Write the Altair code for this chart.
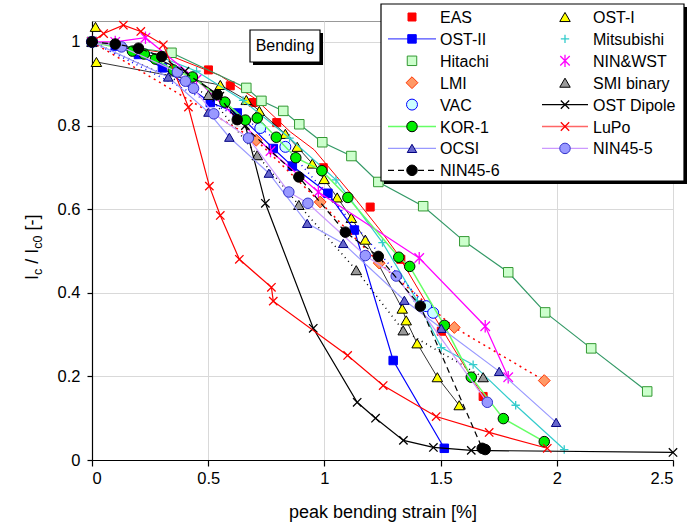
import altair as alt
import pandas as pd

FONT = "Liberation Sans"

# ---------------- data ----------------
names = ["EAS", "OST-I", "OST-II", "Mitsubishi", "Hitachi", "NIN&WST", "LMI",
         "SMI binary", "VAC", "OST Dipole", "KOR-1", "LuPo", "OCSI", "NIN45-5", "NIN45-6"]

eas_x = [0, 0.501, 0.595, 0.694, 0.795, 0.995, 1.197, 1.329, 1.503, 1.683]
eas_y = [1.0, 0.933, 0.895, 0.855, 0.807, 0.699, 0.605, 0.480, 0.308, 0.152]
eas_curve_x = [0, 0.3, 0.55, 0.7, 0.853, 0.956, 1.14, 1.24, 1.312, 1.5, 1.683]
eas_curve_y = [1.0, 0.975, 0.92, 0.865, 0.785, 0.742, 0.62, 0.55, 0.495, 0.318, 0.152]

ost1_x = [0.015, 0.019, 0.552, 0.664, 0.720, 0.832, 0.883, 0.948, 0.999, 1.055, 1.116,
          1.176, 1.335, 1.352, 1.399, 1.486, 1.580]
ost1_y = [1.036, 0.952, 0.897, 0.861, 0.835, 0.780, 0.749, 0.709, 0.672, 0.628, 0.579,
          0.527, 0.362, 0.334, 0.279, 0.198, 0.131]

ost2_x = [0, 0.1, 0.2, 0.303, 0.509, 0.625, 0.780, 0.862, 1.015, 1.129, 1.296, 1.516]
ost2_y = [1.0, 0.99, 0.97, 0.938, 0.855, 0.830, 0.745, 0.703, 0.638, 0.550, 0.238, 0.028]

mits_x = [0, 0.2, 0.45, 0.65, 0.85, 1.05, 1.25, 1.4, 1.503, 1.640, 1.823, 2.032]
mits_y = [1.0, 0.985, 0.93, 0.86, 0.77, 0.67, 0.52, 0.38, 0.269, 0.228, 0.131, 0.025]

hit_x = [0, 0.342, 0.664, 0.729, 0.823, 0.892, 0.991, 1.116, 1.232, 1.425, 1.602,
         1.791, 1.950, 2.148, 2.389]
hit_y = [1.0, 0.974, 0.890, 0.859, 0.835, 0.803, 0.760, 0.727, 0.665, 0.607, 0.523,
         0.449, 0.353, 0.267, 0.164]

nw_x = [0, 0.1, 0.23, 0.45, 0.768, 0.974, 1.408, 1.692, 1.791]
nw_y = [1.0, 1.0, 1.01, 0.91, 0.739, 0.641, 0.483, 0.320, 0.198]

lmi_x = [0, 0.707, 0.982, 1.236, 1.559, 1.946]
lmi_y = [1.0, 0.765, 0.617, 0.471, 0.317, 0.190]

smi_x = [0, 0.501, 0.711, 0.890, 1.137, 1.339, 1.683]
smi_y = [1.0, 0.873, 0.729, 0.610, 0.454, 0.310, 0.198]

vac_x = [0, 0.724, 0.832, 1.438, 1.468]
vac_y = [1.0, 0.794, 0.749, 0.368, 0.352]

dip_x = [0, 0.2, 0.4, 0.55, 0.66, 0.746, 0.952, 1.141, 1.22, 1.34, 1.469, 1.632, 2.5]
dip_y = [1.0, 0.98, 0.93, 0.87, 0.80, 0.614, 0.315, 0.138, 0.10, 0.047, 0.030, 0.023, 0.018]

kor_x = [0, 0.174, 0.225, 0.273, 0.350, 0.432, 0.572, 0.660, 0.711, 0.793, 0.877, 0.989,
         1.101, 1.320, 1.367, 1.516, 1.632, 1.770, 1.946]
kor_y = [1.0, 0.978, 0.971, 0.959, 0.933, 0.916, 0.856, 0.813, 0.818, 0.772, 0.723, 0.692,
         0.628, 0.485, 0.463, 0.322, 0.198, 0.099, 0.044]

lupo_x = [0, 0.05, 0.135, 0.21, 0.307, 0.415, 0.505, 0.552, 0.634, 0.772, 0.78, 1.1,
          1.253, 1.481, 1.709, 1.959]
lupo_y = [1.0, 1.02, 1.04, 1.025, 0.993, 0.844, 0.655, 0.585, 0.480, 0.413, 0.38, 0.25,
          0.178, 0.104, 0.066, 0.028]

ocsi_x = [0, 0.328, 0.501, 0.591, 0.761, 0.926, 1.081, 1.344, 1.503, 1.752, 1.997]
ocsi_y = [1.0, 0.916, 0.832, 0.772, 0.686, 0.566, 0.518, 0.382, 0.315, 0.212, 0.090]

n455_x = [0, 0.127, 0.367, 0.402, 0.437, 0.524, 0.673, 0.847, 0.929, 1.176, 1.309, 1.701]
n455_y = [1.0, 0.988, 0.928, 0.906, 0.889, 0.828, 0.770, 0.641, 0.614, 0.489, 0.440, 0.138]

n456_x = [0, 0.1, 0.2, 0.3, 0.539, 0.625, 0.890, 1.090, 1.232, 1.413, 1.679, 1.692]
n456_y = [1.0, 0.995, 0.985, 0.965, 0.874, 0.814, 0.677, 0.545, 0.487, 0.368, 0.028, 0.025]

x_ticks = [0, 0.5, 1, 1.5, 2, 2.5]
y_ticks = [0, 0.2, 0.4, 0.6, 0.8, 1.0]

series_xy = {
    "EAS": (eas_x, eas_y), "OST-I": (ost1_x, ost1_y), "OST-II": (ost2_x, ost2_y),
    "Mitsubishi": (mits_x, mits_y), "Hitachi": (hit_x, hit_y), "NIN&WST": (nw_x, nw_y),
    "LMI": (lmi_x, lmi_y), "SMI binary": (smi_x, smi_y), "VAC": (vac_x, vac_y),
    "OST Dipole": (dip_x, dip_y), "KOR-1": (kor_x, kor_y), "LuPo": (lupo_x, lupo_y),
    "OCSI": (ocsi_x, ocsi_y), "NIN45-5": (n455_x, n455_y), "NIN45-6": (n456_x, n456_y),
}

# ---------------- styles ----------------
PLUS = "M-1,0L1,0M0,-1L0,1"
XS = "M-1,-1L1,1M-1,1L1,-1"
STAR = "M-1,-1L1,1M-1,1L1,-1M0,-1.3L0,1.3"

styles = {
    "EAS": dict(shape="square", fill="#ff0000", stroke="#ff0000", size=64),
    "OST-I": dict(shape="triangle-up", fill="#ffff00", stroke="#000000", size=110,
                  line="#000000", lw=0.8, skip=1),
    "OST-II": dict(shape="square", fill="#0000ff", stroke="#0000ff", size=72,
                   line="#0000ff", lw=1.2, leg="#4d4dff"),
    "Mitsubishi": dict(shape=PLUS, stroke="#33cccc", size=70, line="#33cccc", lw=1.2),
    "Hitachi": dict(shape="square", fill="#ccffcc", stroke="#339933", size=90,
                    line="#339966", lw=1.2),
    "NIN&WST": dict(shape=STAR, stroke="#ff00ff", size=90, line="#ff00ff", lw=1.2),
    "LMI": dict(shape="diamond", fill="#ff9966", stroke="#ff3300", size=140,
                line="#ff0000", lw=1.5, dash=[2, 4]),
    "SMI binary": dict(shape="triangle-up", fill="#999999", stroke="#000000", size=110,
                       line="#000000", lw=1.5, dash=[1, 4]),
    "VAC": dict(shape="circle", fill="#ccffff", stroke="#0000ff", size=120,
                line="#0000ff", lw=1.5, dash=[1, 4]),
    "OST Dipole": dict(shape=XS, stroke="#000000", size=70, line="#000000", lw=1.2,
                       leg="#000000"),
    "KOR-1": dict(shape="circle", fill="#00ee00", stroke="#000000", size=110,
                  line="#66ff66", lw=1.5, leg="#66ff66"),
    "LuPo": dict(shape=XS, stroke="#ff0000", size=70, line="#ff0000", lw=1.2, leg="#ff6666"),
    "OCSI": dict(shape="triangle-up", fill="#6666cc", stroke="#000080", size=90,
                 line="#9999ff", lw=1.2, leg="#9999ff"),
    "NIN45-5": dict(shape="circle", fill="#9999ff", stroke="#3333cc", size=110,
                    line="#cc99ff", lw=1.2, leg="#cc99ff"),
    "NIN45-6": dict(shape="circle", fill="#000000", stroke="#000000", size=110,
                    line="#000000", lw=1.2, dash=[6, 4], leg="#000000"),
}

# ---------------- encodings ----------------
X = alt.X("x:Q", scale=alt.Scale(domain=[0, 2.5], nice=False, zero=False),
          axis=alt.Axis(values=x_ticks, format=".1~f", title="peak bending strain [%]",
                        tickSize=6, labelPadding=4, titlePadding=17))
Y = alt.Y("y:Q", scale=alt.Scale(domain=[0, 1.05], nice=False, zero=False),
          axis=alt.Axis(values=y_ticks, format=".1~f", title=None, tickSize=5,
                        labelPadding=7))

ONE = pd.DataFrame({"k": [0]})


def line_layer(xs, ys, color, lw, dash=None):
    df = pd.DataFrame({"x": xs, "y": ys, "i": list(range(len(xs)))})
    kw = dict(color=color, strokeWidth=lw, clip=True)
    if dash:
        kw["strokeDash"] = dash
    return alt.Chart(df).mark_line(**kw).encode(x=X, y=Y, order="i:Q")


def point_kw(st):
    if "fill" in st:
        return dict(shape=st["shape"], size=st["size"], filled=True, fill=st["fill"],
                    stroke=st["stroke"], strokeWidth=1, opacity=1)
    return dict(shape=st["shape"], size=st["size"], filled=False, stroke=st["stroke"],
                strokeWidth=1.3, opacity=1)


layers = []
layers.append(line_layer(eas_curve_x, eas_curve_y, "#ff0000", 1.0))
for name in names:
    st = styles[name]
    xs, ys = series_xy[name]
    if "line" in st:
        k = st.get("skip", 0)
        layers.append(line_layer(xs[k:], ys[k:], st["line"], st["lw"], st.get("dash")))
    df = pd.DataFrame({"x": xs, "y": ys})
    layers.append(alt.Chart(df).mark_point(**point_kw(st)).encode(x=X, y=Y))

# ---------------- overlays (pixel positions relative to plot origin) ----------------
def box(x1, y1, x2, y2):
    shadow = alt.Chart(ONE).mark_rect(fill="black").encode(
        x=alt.value(x1 + 3), x2=alt.value(x2 + 3), y=alt.value(y1 + 3), y2=alt.value(y2 + 3))
    face = alt.Chart(ONE).mark_rect(fill="white", stroke="black", strokeWidth=1.2).encode(
        x=alt.value(x1), x2=alt.value(x2), y=alt.value(y1), y2=alt.value(y2))
    return [shadow, face]


# "Bending" label box
layers += box(158, 9, 228, 41)
layers.append(alt.Chart(ONE).mark_text(font=FONT, fontSize=16, align="center",
                                       baseline="middle", color="black").encode(
    x=alt.value(193), y=alt.value(25), text=alt.value("Bending")))

# legend
layers += box(289, -17, 592, 160)
for i, name in enumerate(names):
    st = styles[name]
    col, row = i % 2, i // 2
    ly = -4 + 21.9 * row
    lx1, lmx, lx2, ltx = (296, 320, 344, 348) if col == 0 else (450, 473, 496, 501)
    if "leg" in st:
        kw = dict(color=st["leg"], strokeWidth=1.3)
        if st.get("dash"):
            kw["strokeDash"] = st["dash"]
        layers.append(alt.Chart(ONE).mark_rule(**kw).encode(
            x=alt.value(lx1), x2=alt.value(lx2), y=alt.value(ly)))
    layers.append(alt.Chart(ONE).mark_point(**point_kw(st)).encode(
        x=alt.value(lmx), y=alt.value(ly)))
    layers.append(alt.Chart(ONE).mark_text(font=FONT, fontSize=16, align="left",
                                           baseline="middle", color="black").encode(
        x=alt.value(ltx), y=alt.value(ly + 1), text=alt.value(name)))

# y-axis title: I_c / I_c0 [-] (rotated, with subscripts)
y0 = 259
title_parts = [("I", 0, 18, 0), ("c", 5.0, 12.5, 3.5), ("/ I", 16.3, 18, 0),
               ("c0", 31.3, 12.5, 3.5), ("[-]", 49.5, 18, 0)]
for txt, off, fs, sub in title_parts:
    layers.append(alt.Chart(ONE).mark_text(font=FONT, fontSize=fs, align="left",
                                           baseline="alphabetic", angle=270,
                                           color="black").encode(
        x=alt.value(-54 + sub), y=alt.value(y0 - off), text=alt.value(txt)))

chart = alt.layer(*layers).properties(
    width=581, height=439,
    padding={"left": 92, "top": 21, "right": 15, "bottom": 70},
    autosize=alt.AutoSizeParams(type="none"),
).configure_view(stroke="#999999", strokeWidth=1).configure_axis(
    labelFont=FONT, labelFontSize=16.5, labelColor="black",
    titleFont=FONT, titleFontSize=18, titleFontWeight="normal", titleColor="black",
    domainColor="black", domainWidth=1.2, tickColor="black", tickWidth=1.2,
    gridColor="#d9d9d9", gridWidth=1,
)

chart.save("out.html", embed_options={"renderer": "svg", "actions": False})
